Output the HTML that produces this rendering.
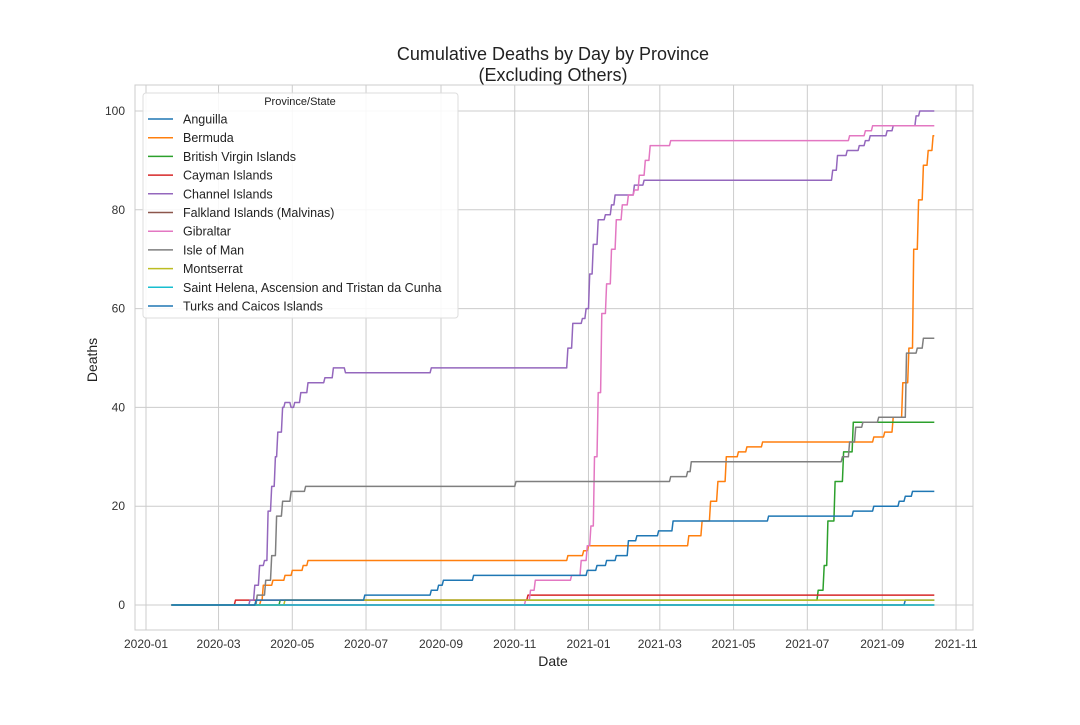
<!DOCTYPE html>
<html><head><meta charset="utf-8"><style>
body{margin:0;background:#fff;font-family:"Liberation Sans",sans-serif}
svg text{font-family:"Liberation Sans",sans-serif}
</style></head><body>
<svg id="chart" width="1080" height="720" xmlns="http://www.w3.org/2000/svg">
<rect width="1080" height="720" fill="#fff"/>
<text x="553" y="60" font-size="18" text-anchor="middle" fill="#222">Cumulative Deaths by Day by Province</text>
<text x="553" y="81" font-size="18" text-anchor="middle" fill="#222">(Excluding Others)</text>
<g id="grid"></g><g id="series"></g><g id="axes"></g>
<text x="553" y="666" font-size="14" text-anchor="middle" fill="#222">Date</text>
<text transform="translate(97,360) rotate(-90)" font-size="14" text-anchor="middle" fill="#222">Deaths</text>
<g id="legend"></g>
</svg>
<script>
const names=["Anguilla","Bermuda","British Virgin Islands","Cayman Islands","Channel Islands","Falkland Islands (Malvinas)","Gibraltar","Isle of Man","Montserrat","Saint Helena, Ascension and Tristan da Cunha","Turks and Caicos Islands"];
const colors=["#1f77b4","#ff7f0e","#2ca02c","#d62728","#9467bd","#8c564b","#e377c2","#7f7f7f","#bcbd22","#17becf","#1f77b4"];
const startDate="2020-01-22", endDate="2021-10-14";
const anguilla=[["2020-01-22",0],["2021-09-20",1]];
const bermuda=[["2020-01-22",0],["2020-04-05",1],["2020-04-07",4],["2020-04-15",5],["2020-04-25",6],["2020-05-01",7],["2020-05-10",8],["2020-05-14",9],["2020-12-15",10],["2020-12-28",11],["2021-01-01",12],["2021-03-25",14],["2021-04-05",17],["2021-04-12",21],["2021-04-18",25],["2021-04-25",30],["2021-05-05",31],["2021-05-12",32],["2021-05-25",33],["2021-08-25",34],["2021-09-03",35],["2021-09-10",38],["2021-09-18",45],["2021-09-23",52],["2021-09-27",72],["2021-10-01",82],["2021-10-05",89],["2021-10-09",92],["2021-10-13",95]];
const bvi=[["2020-01-22",0],["2020-04-21",1],["2021-07-10",3],["2021-07-15",8],["2021-07-18",17],["2021-07-24",25],["2021-07-31",31],["2021-08-08",37]];
const cayman=[["2020-01-22",0],["2020-03-15",1],["2020-11-12",2]];
const channel=[["2020-01-22",0],["2020-03-27",1],["2020-03-31",4],["2020-04-04",8],["2020-04-08",9],["2020-04-11",19],["2020-04-14",24],["2020-04-17",30],["2020-04-19",35],["2020-04-23",40],["2020-04-25",41],["2020-04-30",40],["2020-05-03",41],["2020-05-08",43],["2020-05-14",45],["2020-05-28",46],["2020-06-04",48],["2020-06-14",47],["2020-08-24",48],["2020-12-15",52],["2020-12-19",57],["2020-12-27",58],["2020-12-30",60],["2021-01-02",67],["2021-01-05",73],["2021-01-09",78],["2021-01-15",79],["2021-01-20",81],["2021-01-23",83],["2021-02-08",85],["2021-02-16",86],["2021-07-22",88],["2021-07-26",91],["2021-08-03",92],["2021-08-13",93],["2021-08-18",94],["2021-08-22",95],["2021-09-05",96],["2021-09-10",97],["2021-09-29",99],["2021-10-02",100]];
const falkland=[["2020-01-22",0]];
const gibraltar=[["2020-01-22",0],["2020-11-10",1],["2020-11-14",3],["2020-11-18",5],["2020-12-18",6],["2020-12-26",9],["2020-12-31",12],["2021-01-03",16],["2021-01-06",30],["2021-01-09",43],["2021-01-12",59],["2021-01-16",65],["2021-01-20",72],["2021-01-24",78],["2021-01-29",81],["2021-02-03",83],["2021-02-08",84],["2021-02-12",87],["2021-02-17",90],["2021-02-21",93],["2021-03-10",94],["2021-08-05",95],["2021-08-18",96],["2021-08-24",97]];
const isleOfMan=[["2020-01-22",0],["2020-04-02",2],["2020-04-09",5],["2020-04-14",10],["2020-04-18",18],["2020-04-23",21],["2020-04-30",23],["2020-05-12",24],["2020-11-02",25],["2021-03-10",26],["2021-03-24",27],["2021-03-27",29],["2021-07-30",30],["2021-08-05",33],["2021-08-10",36],["2021-08-16",37],["2021-08-29",38],["2021-09-21",51],["2021-09-30",52],["2021-10-05",54]];
const montserrat=[["2020-01-22",0],["2020-04-25",1]];
const stHelena=[["2020-01-22",0]];
const turks=[["2020-01-22",0],["2020-04-01",1],["2020-06-30",2],["2020-08-24",3],["2020-08-30",4],["2020-09-03",5],["2020-09-28",6],["2020-12-31",7],["2021-01-08",8],["2021-01-16",9],["2021-01-24",10],["2021-02-03",13],["2021-02-10",14],["2021-02-28",15],["2021-03-12",17],["2021-05-30",18],["2021-08-08",19],["2021-08-25",20],["2021-09-15",21],["2021-09-20",22],["2021-09-26",23]];
const allSeries=[anguilla,bermuda,bvi,cayman,channel,falkland,gibraltar,isleOfMan,montserrat,stHelena,turks];
const xTicks=["2020-01","2020-03","2020-05","2020-07","2020-09","2020-11","2021-01","2021-03","2021-05","2021-07","2021-09","2021-11"];
const yTicks=[0,20,40,60,80,100];

const NS="http://www.w3.org/2000/svg";
const PL=135,PR=973,PT=85,PB=630;
const t0=Date.UTC(2020,0,1),DAY=86400000;
function days(s){const p=s.split("-").map(Number);return (Date.UTC(p[0],p[1]-1,p[2]||1)-t0)/DAY;}
function X(s){return 146+days(s)*1.2090;}
function Y(v){return 605-v*4.94;}
function mk(tag,attrs,parent){const e=document.createElementNS(NS,tag);for(const k in attrs)e.setAttribute(k,attrs[k]);parent.appendChild(e);return e;}
const grid=document.getElementById("grid"),axes=document.getElementById("axes"),ser=document.getElementById("series"),leg=document.getElementById("legend");
mk("rect",{x:PL,y:PT,width:PR-PL,height:PB-PT,fill:"none",stroke:"#ccc","stroke-width":1},grid);
xTicks.forEach(t=>{const x=X(t);
 const l=mk("line",{x1:x,x2:x,y1:PT,y2:PB,stroke:"#ccc","stroke-width":1},grid);
 
 
 const tx=mk("text",{x:x,y:PB+18,"font-size":12,"text-anchor":"middle",fill:"#333"},axes);tx.textContent=t;
 
 
});
yTicks.forEach(v=>{const y=Y(v);
 const l=mk("line",{x1:PL,x2:PR,y1:y,y2:y,stroke:"#ccc","stroke-width":1},grid);
 
 
 const tx=mk("text",{x:PL-10,y:y+4,"font-size":12,"text-anchor":"end",fill:"#333"},axes);tx.textContent=v;
 
 
});
allSeries.forEach((s,i)=>{
 const pts=[];
 s.forEach((p,j)=>{const d=days(p[0]);
  if(j>0){pts.push([146+(d-1)*1.209,Y(s[j-1][1])]);}
  pts.push([146+d*1.209,Y(p[1])]);});
 pts.push([X(endDate),Y(s[s.length-1][1])]);
 const pl=mk("polyline",{points:pts.map(p=>p[0].toFixed(1)+","+p[1].toFixed(1)).join(" "),fill:"none",stroke:colors[i],"stroke-width":1.5,"stroke-linejoin":"round"},ser);
 
 
});
const box=mk("rect",{x:143,y:93,width:315,height:225,fill:"#fff","fill-opacity":0.85,stroke:"#ddd",rx:3},leg);


const lt=mk("text",{x:300,y:105,"font-size":11,"text-anchor":"middle",fill:"#222"},leg);lt.textContent="Province/State";


names.forEach((n,i)=>{const y=119+i*18.7;
 const g=mk("g",{},leg);
 
 
 mk("line",{x1:148,x2:173,y1:y,y2:y,stroke:colors[i],"stroke-width":1.5},g);
 const tx=mk("text",{x:183,y:y+4.5,"font-size":12.5,fill:"#222"},g);tx.textContent=n;
});
</script>
</body></html>
